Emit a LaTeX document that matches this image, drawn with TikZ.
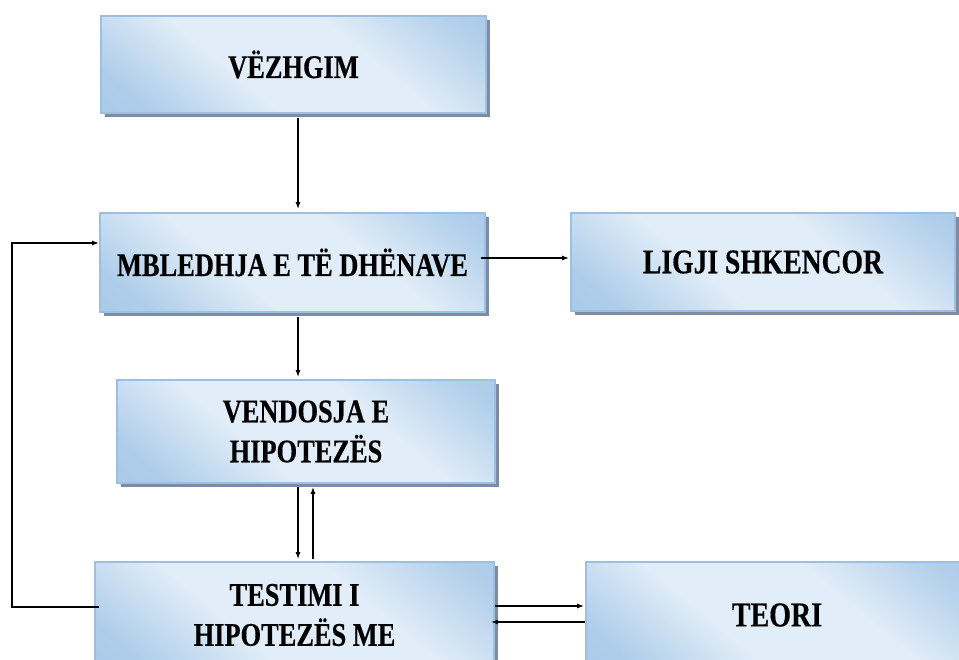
\documentclass[tikz,border=0pt]{standalone}
\usepackage{fontspec}
\setmainfont{Liberation Serif}[FakeStretch=0.8, BoldFeatures={FakeBold=0.4}]
\usetikzlibrary{shadows,arrows.meta}
\definecolor{bdk}{RGB}{158,195,230}
\definecolor{blt}{RGB}{225,237,248}
\definecolor{bord}{RGB}{155,192,228}
\definecolor{shc}{RGB}{128,138,160}
\pgfdeclareverticalshading{boxsh}{100bp}{color(0bp)=(bdk); color(22bp)=(bdk!75!blt); color(40bp)=(blt); color(62bp)=(blt); color(80bp)=(bdk!70!blt); color(100bp)=(bdk)}
\begin{document}
\begin{tikzpicture}[x=1pt,y=-1pt,
  box/.style={draw=bord, line width=1.8pt, shading=boxsh, shading angle=-40, align=center, inner sep=0pt,
    font=\fontsize{33}{40}\selectfont\bfseries,
    drop shadow={shadow xshift=4pt, shadow yshift=-4pt, fill=shc, opacity=1}},
  arr/.style={line width=1.2pt, -{Latex[length=7pt,width=5pt]}}]
\useasboundingbox (0,0) rectangle (959,659);
\node[box, minimum width=385, minimum height=97] (v) at (293.5,64.5) {VËZHGIM};
\node[box, minimum width=385, minimum height=99] (m) at (292.5,262.5) {MBLEDHJA E TË DHËNAVE};
\node[box, minimum width=384, minimum height=98, font=\fontsize{34.5}{40}\selectfont\bfseries] (l) at (763,262) {LIGJI SHKENCOR};
\node[box, minimum width=378, minimum height=103] (h) at (306,431.5) {VENDOSJA E\\HIPOTEZËS};
\node[box, minimum width=399, minimum height=106] (t) at (294.5,615) {TESTIMI I\\HIPOTEZËS ME};
\node[box, minimum width=382, minimum height=106, font=\fontsize{35}{40}\selectfont\bfseries] (o) at (777,615) {TEORI};
\coordinate (fb) at (12,243);
\draw[arr] ([xshift=4.5pt,yshift=-4pt]v.south) -- ([xshift=5.5pt,yshift=3pt]m.north);
\draw[arr] ([xshift=5.5pt,yshift=-4pt]m.south) -- ([xshift=-8pt,yshift=2pt]h.north);
\draw[arr] ([xshift=-5pt,yshift=4.5pt]m.east) -- ([yshift=4pt,xshift=-1pt]l.west);
\draw[arr] ([xshift=-8pt,yshift=-3pt]h.south) -- ([xshift=3.5pt,yshift=2pt]t.north);
\draw[arr] ([xshift=18.5pt,yshift=2pt]t.north) -- ([xshift=7pt,yshift=-3pt]h.south);
\draw[arr] ([xshift=5pt,yshift=8pt]t.west) -| (fb) -- ([yshift=19.5pt]m.west);
\draw[arr] ([yshift=9pt]t.east) -- ([yshift=9pt,xshift=-1pt]o.west);
\draw[arr] ([yshift=-7pt]o.west) -- ([yshift=-7pt,xshift=-4pt]t.east);
\end{tikzpicture}
\end{document}
